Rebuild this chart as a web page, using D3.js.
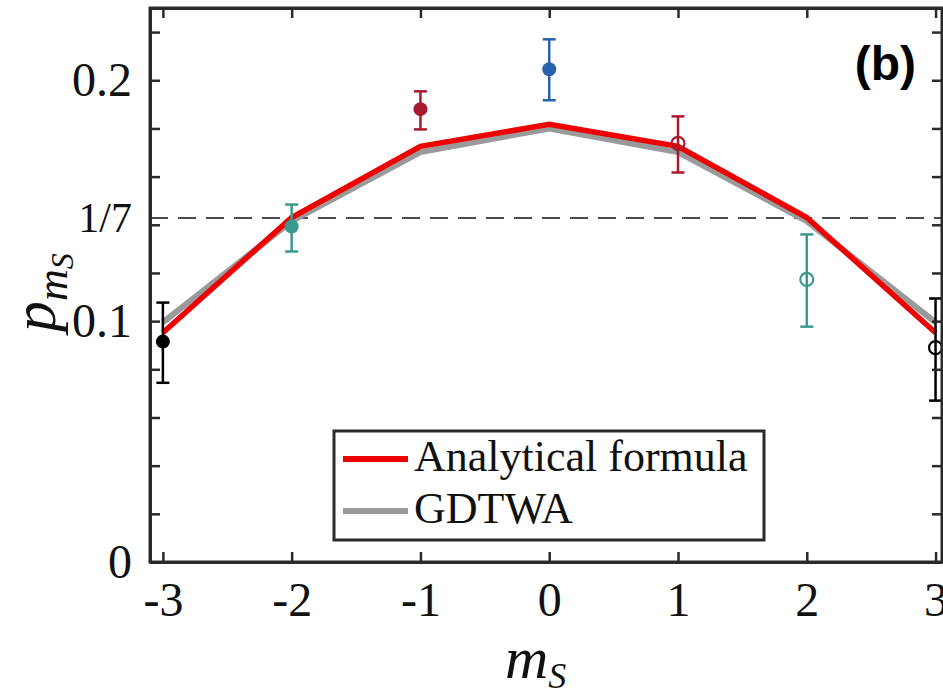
<!DOCTYPE html>
<html>
<head>
<meta charset="utf-8">
<script src="https://cdn.jsdelivr.net/npm/d3@7"></script>
<style>
  body { margin: 0; background: #fff; }
</style>
</head>
<body>
<svg id="plot" width="943" height="697"></svg>
<script>
// m_S values and what was measured / computed
const mS = [-3, -2, -1, 0, 1, 2, 3];
const analytical = [0.0952, 0.1430, 0.1726, 0.1817, 0.1726, 0.1430, 0.0952];
const gdtwa = [0.0995, 0.1415, 0.1702, 0.1800, 0.1702, 0.1415, 0.0995];
const measured = [0.0915, 0.1393, 0.1880, 0.2046, 0.1738, 0.1173, 0.0890];
const errLow = [0.0744, 0.1289, 0.1796, 0.1917, 0.1617, 0.0977, 0.0670];
const errHigh = [0.1077, 0.1484, 0.1954, 0.2170, 0.1850, 0.1360, 0.1094];
const pointColors = ["#000000", "#3a9a8e", "#a8192e", "#2862ad", "#a8192e", "#3a9a8e", "#000000"];
const pointFilled = [true, true, true, true, false, false, false];
const yMinorTicks = [0, 0.02, 0.04, 0.06, 0.08, 0.1, 0.12, 0.14, 0.16, 0.18, 0.2, 0.22];
const yLabelTicks = [0, 0.1, 1 / 7, 0.2];
const yLabelText = ["0", "0.1", "1/7", "0.2"];
const xLabelText = ["-3", "-2", "-1", "0", "1", "2", "3"];
const legendNames = ["Analytical formula", "GDTWA"];

const SERIF = "'Liberation Serif', 'Times New Roman', Tinos, 'DejaVu Serif', serif";

function getConfig() {
  let left = 150, right = 942, top = 8, bottom = 562;
  let container = d3.select("#plot");
  return {left, right, top, bottom, container};
}

function getScales(config) {
  let xScale = d3.scaleLinear()
    .domain([-3.1, 3.05])
    .range([config.left, config.right]);
  let yScale = d3.scaleLinear()
    .domain([0, 0.23])
    .range([config.bottom, config.top]);
  return {xScale, yScale};
}

function drawAxes(scales, config) {
  let {xScale, yScale} = scales;
  let {left, right, top, bottom, container} = config;

  // ticks point inwards on all four sides
  let bottomAxis = container.append("g")
    .attr("transform", `translate(0,${bottom})`)
    .call(d3.axisBottom(xScale).tickValues(mS).tickSizeInner(-10).tickSizeOuter(0).tickPadding(20)
      .tickFormat((d, i) => xLabelText[i]));
  bottomAxis.selectAll("text")
    .style("font-family", SERIF)
    .style("font-size", "48px")
    .attr("fill", "#111");

  container.append("g")
    .attr("transform", `translate(0,${top})`)
    .call(d3.axisTop(xScale).tickValues(mS).tickSizeInner(-10).tickSizeOuter(0).tickFormat(""));

  container.append("g")
    .attr("transform", `translate(${left},0)`)
    .call(d3.axisLeft(yScale).tickValues(yMinorTicks).tickSizeInner(-10).tickSizeOuter(0).tickFormat(""));

  container.append("g")
    .attr("transform", `translate(${right},0)`)
    .call(d3.axisRight(yScale).tickValues(yMinorTicks).tickSizeInner(-10).tickSizeOuter(0).tickFormat(""));

  let labelAxis = container.append("g")
    .attr("transform", `translate(${left},0)`)
    .call(d3.axisLeft(yScale).tickValues(yLabelTicks).tickSize(0).tickPadding(18)
      .tickFormat((d, i) => yLabelText[i]));
  labelAxis.select(".domain").remove();
  labelAxis.selectAll("text")
    .style("font-family", SERIF)
    .style("font-size", "48px")
    .attr("fill", "#111");
  labelAxis.selectAll("text").filter((d, i) => i === 2).style("font-size", "42px");

  container.selectAll(".domain").attr("stroke", "#2a2a2a").attr("stroke-width", 3);
  container.selectAll(".tick line").attr("stroke", "#2a2a2a").attr("stroke-width", 2.5);

  // box frame
  container.append("rect")
    .attr("x", left).attr("y", top)
    .attr("width", right - left).attr("height", bottom - top)
    .attr("fill", "none").attr("stroke", "#2a2a2a").attr("stroke-width", 3);

  // axis labels
  let xl = container.append("text")
    .attr("x", 505).attr("y", 678)
    .style("font-family", SERIF).style("font-style", "italic").style("font-size", "60px")
    .attr("fill", "#111");
  xl.append("tspan").text("m");
  xl.append("tspan").style("font-size", "36px").attr("dy", 10).text("S");

  let yl = container.append("text")
    .attr("transform", "translate(55,332) rotate(-90)")
    .style("font-family", SERIF).style("font-style", "italic").style("font-size", "62px")
    .attr("fill", "#111");
  yl.append("tspan").text("p");
  yl.append("tspan").style("font-size", "44px").attr("dy", 12).text("m");
  yl.append("tspan").style("font-size", "32px").attr("dy", 6).text("S");

  container.append("text")
    .attr("x", 916).attr("y", 80)
    .attr("text-anchor", "end")
    .style("font-family", "'Liberation Sans', Arial, sans-serif")
    .style("font-weight", "bold").style("font-size", "48px")
    .attr("fill", "#000")
    .text("(b)");
}

function drawData(scales, config) {
  let {xScale, yScale} = scales;
  let {left, right, container} = config;

  container.append("line")
    .attr("x1", left).attr("x2", right)
    .attr("y1", yScale(1 / 7)).attr("y2", yScale(1 / 7))
    .attr("stroke", "#111").attr("stroke-width", 1.5)
    .attr("stroke-dasharray", "18,10");

  let line = d3.line()
    .x((d, i) => xScale(mS[i]))
    .y(d => yScale(d));

  container.append("path")
    .attr("d", line(gdtwa))
    .attr("fill", "none").attr("stroke", "#9a9a9a").attr("stroke-width", 6);
  container.append("path")
    .attr("d", line(analytical))
    .attr("fill", "none").attr("stroke", "#ee0000").attr("stroke-width", 5.5);

  let pts = container.selectAll(".pt")
    .data(mS)
    .enter().append("g")
    .attr("class", "pt");

  pts.append("line")
    .attr("x1", d => xScale(d)).attr("x2", d => xScale(d))
    .attr("y1", (d, i) => yScale(errLow[i])).attr("y2", (d, i) => yScale(errHigh[i]))
    .attr("stroke", (d, i) => pointColors[i]).attr("stroke-width", 2.5);
  [errLow, errHigh].forEach(arr => {
    pts.append("line")
      .attr("x1", d => xScale(d) - 6.5).attr("x2", d => xScale(d) + 6.5)
      .attr("y1", (d, i) => yScale(arr[i])).attr("y2", (d, i) => yScale(arr[i]))
      .attr("stroke", (d, i) => pointColors[i]).attr("stroke-width", 2.5);
  });
  pts.append("circle")
    .attr("cx", d => xScale(d))
    .attr("cy", (d, i) => yScale(measured[i]))
    .attr("r", (d, i) => pointFilled[i] ? 7 : 6.5)
    .attr("fill", (d, i) => pointFilled[i] ? pointColors[i] : "none")
    .attr("stroke", (d, i) => pointColors[i])
    .attr("stroke-width", (d, i) => pointFilled[i] ? 0 : 2.2);
}

function drawLegend(config) {
  let {container} = config;
  let lg = container.append("g");
  lg.append("rect")
    .attr("x", 334).attr("y", 431).attr("width", 430).attr("height", 109)
    .attr("fill", "#fff").attr("stroke", "#2a2a2a").attr("stroke-width", 3);
  let legColors = ["#ee0000", "#9a9a9a"];
  legendNames.forEach((name, i) => {
    let yy = 459 + i * 52;
    lg.append("line")
      .attr("x1", 343).attr("x2", 408).attr("y1", yy).attr("y2", yy)
      .attr("stroke", legColors[i]).attr("stroke-width", 6);
    lg.append("text")
      .attr("x", 414).attr("y", yy + 12)
      .style("font-family", SERIF).style("font-size", "44px")
      .attr("fill", "#111")
      .text(name);
  });
}

function drawChart() {
  let config = getConfig();
  let scales = getScales(config);
  drawData(scales, config);
  drawAxes(scales, config);
  drawLegend(config);
}

drawChart();
</script>
</body>
</html>
